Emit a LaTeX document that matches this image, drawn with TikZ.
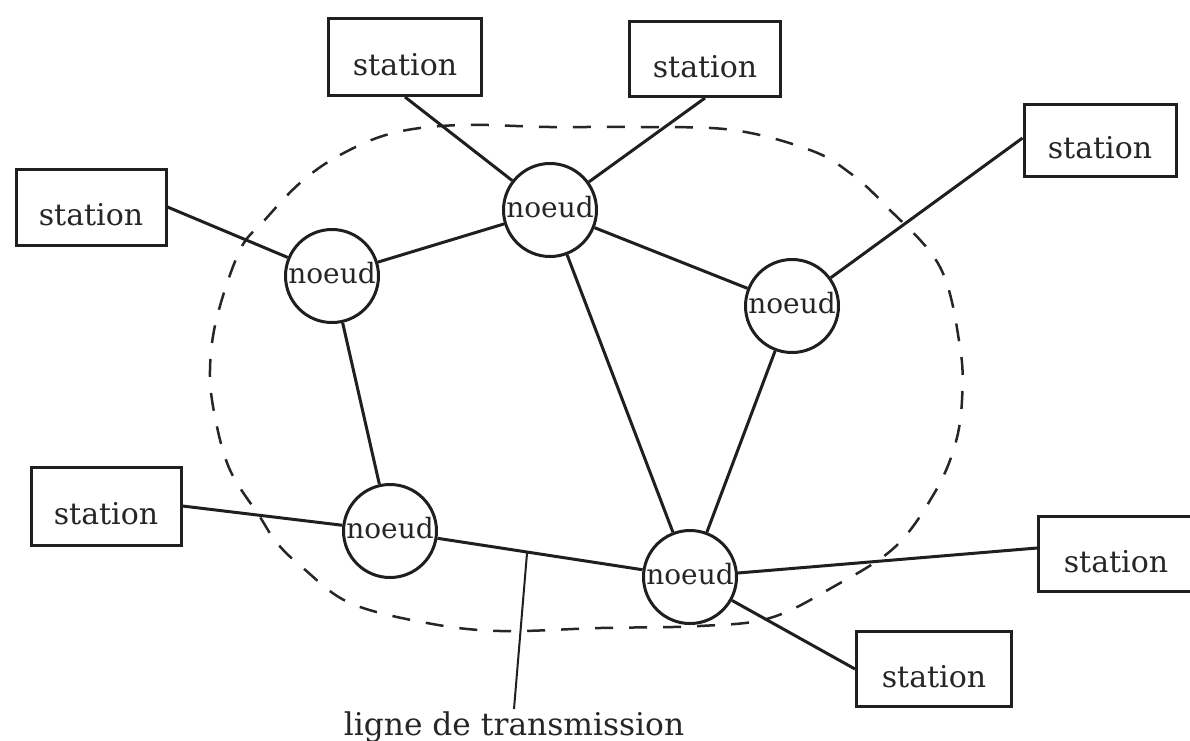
\documentclass[tikz,border=0pt]{standalone}
\usepackage{fontspec}
\newfontfamily\typeface{DejaVu Serif}
\usetikzlibrary{calc}
\begin{document}
\begin{tikzpicture}[x=1pt,y=-1pt,
  ink/.style={draw=black!88, line width=3pt},
  stationbox/.style={ink, rectangle, inner sep=0pt,
    font=\typeface\fontsize{30}{36}\selectfont, text=black!85,
    text height=36pt, text depth=0pt},
  nodecircle/.style={ink, circle, inner sep=0pt, minimum size=93pt,
    font=\typeface\fontsize{28}{34}\selectfont, text=black!85,
    text height=14.6pt, text depth=0pt},
  link/.style={draw=black!88, line width=3pt},
  boundary/.style={draw=black!85, line width=2.5pt, dash pattern=on 18pt off 16pt},
  pointer/.style={draw=black!88, line width=2pt}]

\useasboundingbox (0,0) rectangle (1190,740);

% limit of the network
\draw[boundary] plot[smooth cycle, tension=0.6] coordinates {
  (300,183) (340,155) (393,133) (460,125) (550,127) (640,127) (733,130)
  (810,150) (850,173) (887,207) (940,267) (960,347) (962,400) (955,445)
  (935,492) (895,547) (833,587) (770,618) (700,626) (600,628) (500,631)
  (427,623) (350,603) (303,568) (277,543) (260,517) (230,470) (215,417)
  (210,370) (217,317) (240,250) (263,222)};

% switching nodes
\node[nodecircle] (A) at (550,210) {noeud};
\node[nodecircle] (B) at (332,276) {noeud};
\node[nodecircle] (C) at (792,306) {noeud};
\node[nodecircle] (D) at (390,531) {noeud};
\node[nodecircle] (E) at (690,577) {noeud};

% stations
\node[stationbox, minimum width=153pt, minimum height=77pt] (s1) at (405,57) {station};
\node[stationbox, minimum width=151pt, minimum height=75pt] (s2) at (705,59) {station};
\node[stationbox, minimum width=152pt, minimum height=72pt] (s3) at (1100,140) {station};
\node[stationbox, minimum width=150pt, minimum height=76pt] (s4) at (91,207) {station};
\node[stationbox, minimum width=150pt, minimum height=78pt] (s5) at (106,506) {station};
\node[stationbox, minimum width=155pt, minimum height=75pt] (s6) at (1116,554) {station};
\node[stationbox, minimum width=155pt, minimum height=75pt] (s7) at (934,669) {station};

% transmission lines between nodes
\draw[link] (A) -- (B);
\draw[link] (A) -- (C);
\draw[link] (A) -- (E);
\draw[link] (B) -- (D);
\draw[link] (C) -- (E);
\draw[link] (D) -- (E);

% station access lines
\draw[link] (s1.south) -- (A);
\draw[link] (s2.south) -- (A);
\draw[link] ([yshift=2pt]s3.west) -- (C);
\draw[link] (s4.east) -- (B);
\draw[link] (s5.east) -- (D);
\draw[link] ([yshift=6pt]s6.west) -- (E);
\draw[link] (s7.west) -- (E);

% caption
\coordinate (tap) at ($(D)!0.457!(E)$);
\node[font=\typeface\fontsize{31.3}{36}\selectfont, text=black!85, anchor=base,
  inner sep=2pt] (lbl) at (514,735) {ligne de transmission};
\draw[pointer] (tap) -- (lbl.north);
\end{tikzpicture}
\end{document}
